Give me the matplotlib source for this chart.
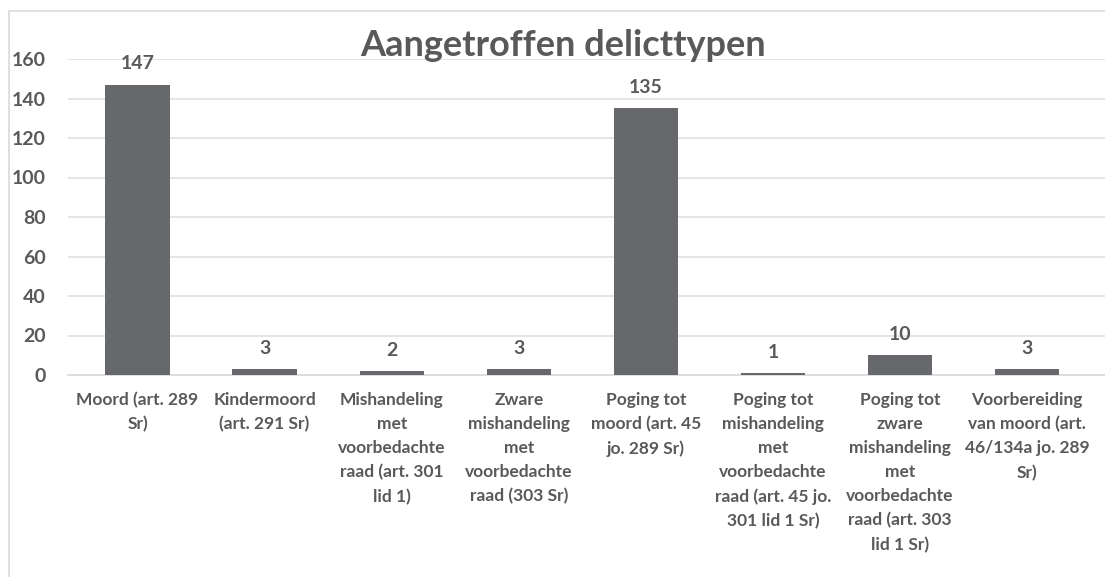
import matplotlib
matplotlib.use("Agg")
import matplotlib.pyplot as plt
from matplotlib.patches import Rectangle

categories = [
    "Moord (art. 289\nSr)",
    "Kindermoord\n(art. 291 Sr)",
    "Mishandeling\nmet\nvoorbedachte\nraad (art. 301\nlid 1)",
    "Zware\nmishandeling\nmet\nvoorbedachte\nraad (303 Sr)",
    "Poging tot\nmoord (art. 45\njo. 289 Sr)",
    "Poging tot\nmishandeling\nmet\nvoorbedachte\nraad (art. 45 jo.\n301 lid 1 Sr)",
    "Poging tot\nzware\nmishandeling\nmet\nvoorbedachte\nraad (art. 303\nlid 1 Sr)",
    "Voorbereiding\nvan moord (art.\n46/134a jo. 289\nSr)",
]
values = [147, 3, 2, 3, 135, 1, 10, 3]
yticks = [0, 20, 40, 60, 80, 100, 120, 140, 160]
title = "Aangetroffen delicttypen"

W, H = 1105, 577
fig = plt.figure(figsize=(W / 100, H / 100), dpi=100)
fig.patch.set_facecolor("white")

# outer chart frame
fig.patches.append(Rectangle((9 / W, -0.01), 1.1, 1 - 11 / H + 0.01, transform=fig.transFigure,
                             fill=False, edgecolor="#d9d9d9", linewidth=1.2))

ax = fig.add_axes([68 / W, (H - 375) / H, (W - 68) / W, (375 - 59) / H])
text_col = "#595959"
font = "Lato"

x = list(range(len(values)))
ax.bar(x, values, width=0.507, color="#67686c", zorder=3)
ax.set_xlim(-0.547, 7.612)
ax.set_ylim(0, 160)
ax.set_yticks(yticks)
ax.set_yticklabels([str(t) for t in yticks], fontsize=14, fontweight="bold",
                   color=text_col, family=font)
ax.grid(axis="y", color="#e0e0e0", linewidth=1.2, zorder=0)
for s in ["top", "right", "left"]:
    ax.spines[s].set_visible(False)
ax.spines["bottom"].set_color("#d9d9d9")
ax.spines["bottom"].set_linewidth(1.2)
ax.tick_params(axis="y", length=0, pad=16)
ax.tick_params(axis="x", length=0, pad=12)
ax.set_xticks(x)
ax.set_xticklabels(categories, fontsize=12.5, fontweight="bold", color=text_col,
                   family=font, linespacing=1.62)

for xi, v in zip(x, values):
    ax.annotate(str(v), (xi, v), xytext=(0, 9), textcoords="offset points",
                ha="center", va="bottom", fontsize=14, fontweight="bold",
                color=text_col, family=font)

fig.text(563 / W, 1 - 45 / H, title, ha="center", va="center", fontsize=26,
         fontweight="bold", color=text_col, family=font)

fig.savefig("out.png", dpi=100)
